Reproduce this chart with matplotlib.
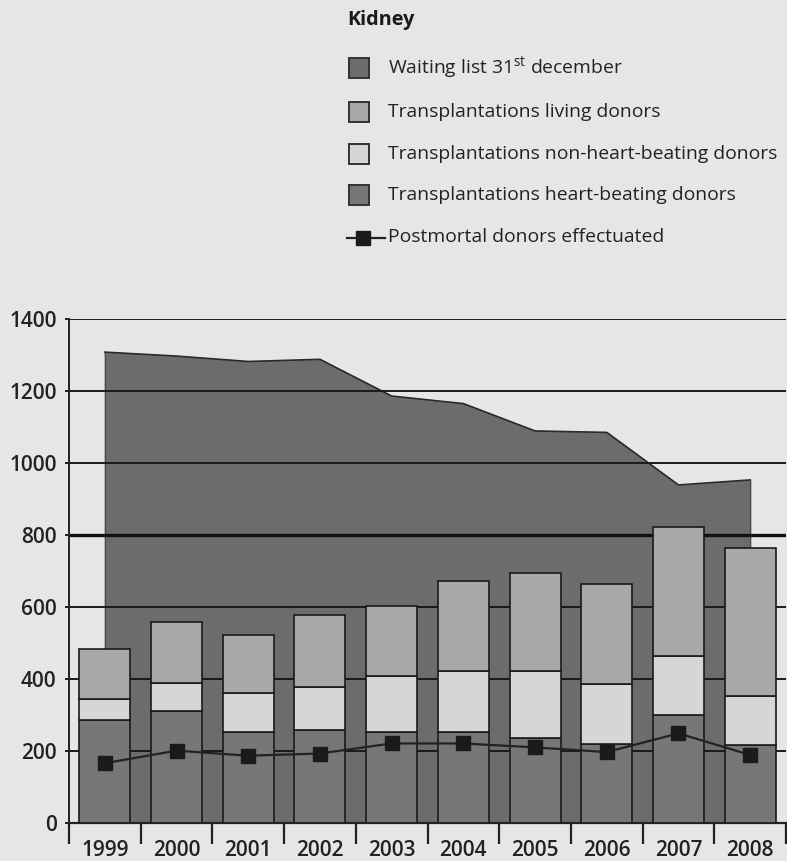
import numpy as np
import matplotlib.pyplot as plt
from matplotlib.patches import Rectangle
from matplotlib.lines import Line2D

plt.rcParams['font.family'] = ['Open Sans', 'DejaVu Sans']
plt.rcParams['mathtext.fontset'] = 'custom'
plt.rcParams['mathtext.rm'] = 'Open Sans'

years = ['1999', '2000', '2001', '2002', '2003', '2004', '2005', '2006', '2007', '2008']
waiting_list = [1308, 1297, 1282, 1288, 1186, 1165, 1089, 1085, 939, 953]
heart_beating = [286, 312, 254, 258, 254, 254, 235, 219, 300, 217]
non_heart_beating = [58, 76, 106, 119, 155, 169, 188, 167, 165, 137]
living = [138, 171, 162, 201, 194, 250, 272, 277, 358, 409]
postmortal = [166, 201, 187, 193, 221, 221, 210, 197, 249, 189]

bg = '#e6e6e6'
c_wait = '#6c6c6c'
c_heart = '#777777'
c_nhb = '#d6d6d6'
c_living = '#a8a8a8'

W, H = 787, 861
fig = plt.figure(figsize=(W / 100, H / 100), dpi=100, facecolor=bg)
ax = fig.add_axes([69 / W, 38 / H, 717 / W, 504 / H])
ax.set_facecolor(bg)

x = np.arange(len(years))

# waiting list area
ax.fill_between(x, 0, waiting_list, color=c_wait, zorder=1)
ax.plot(x, waiting_list, color='#2a2a2a', lw=1.2, zorder=1.5)
ax.vlines([x[0], x[-1]], 0, [waiting_list[0], waiting_list[-1]], color='#4a4a4a', lw=0.8, zorder=1.5)

# gridlines
for v in [200, 400, 600, 1000, 1200, 1400]:
    ax.axhline(v, color='#1a1a1a', lw=1.4, zorder=2)
ax.axhline(800, color='#111111', lw=2.4, zorder=2)

# stacked bars
bw = 0.71
hb = np.array(heart_beating)
nhb = np.array(non_heart_beating)
ax.bar(x, hb, bw, color=c_heart, edgecolor='#1a1a1a', lw=1.2, zorder=3)
ax.bar(x, nhb, bw, bottom=hb, color=c_nhb, edgecolor='#1a1a1a', lw=1.2, zorder=3)
ax.bar(x, living, bw, bottom=hb + nhb, color=c_living, edgecolor='#1a1a1a', lw=1.2, zorder=3)

# postmortal donors
ax.plot(x, postmortal, color='#222222', lw=1.6, marker='s', ms=10,
        mfc='#1a1a1a', mec='#1a1a1a', zorder=4)

ax.set_xlim(-0.5, 9.5)
ax.set_ylim(0, 1400)
ax.set_yticks(range(0, 1401, 200))
ax.tick_params(axis='y', length=3, width=1.2, pad=6, labelsize=15, labelcolor='#222222')
for lab in ax.get_yticklabels():
    lab.set_fontweight('semibold')

ax.set_xticks(x)
ax.set_xticklabels(years, fontsize=15, fontweight='semibold', color='#222222')
ax.set_xticks(np.arange(-0.5, 10, 1), minor=True)
ax.tick_params(axis='x', which='major', length=0, pad=12)
ax.tick_params(axis='x', which='minor', length=15, width=1.6, color='#222222')

for s in ['top', 'right']:
    ax.spines[s].set_visible(False)
ax.spines['left'].set_linewidth(1.4)
ax.spines['bottom'].set_linewidth(1.6)
ax.spines['left'].set_color('#222222')
ax.spines['bottom'].set_color('#222222')

# legend drawn by hand
def fx(px):
    return px / W

def fy(py):
    return 1 - py / H

fig.text(fx(347), fy(20), 'Kidney', fontsize=14.3, fontweight='bold', color='#1a1a1a', va='center')
entries = [
    ('Waiting list 31$^{\\mathrm{st}}$ december', c_wait),
    ('Transplantations living donors', c_living),
    ('Transplantations non-heart-beating donors', c_nhb),
    ('Transplantations heart-beating donors', c_heart),
]
ys = [68, 112, 154, 195]
for (label, col), yy in zip(entries, ys):
    fig.add_artist(Rectangle((fx(349), fy(yy + 10)), 20 / W, 20 / H, transform=fig.transFigure,
                             facecolor=col, edgecolor='#333333', lw=1.4))
    fig.text(fx(388), fy(yy), label, fontsize=13.9, color='#222222', va='center')

fig.add_artist(Line2D([fx(347), fx(385)], [fy(238), fy(238)], transform=fig.transFigure,
                      color='#222222', lw=1.6))
fig.add_artist(Line2D([fx(363)], [fy(238)], transform=fig.transFigure, marker='s', ms=10,
                      color='#1a1a1a'))
fig.text(fx(388), fy(237), 'Postmortal donors effectuated', fontsize=13.9, color='#222222', va='center')

fig.savefig('out.png', dpi=100, facecolor=bg)
